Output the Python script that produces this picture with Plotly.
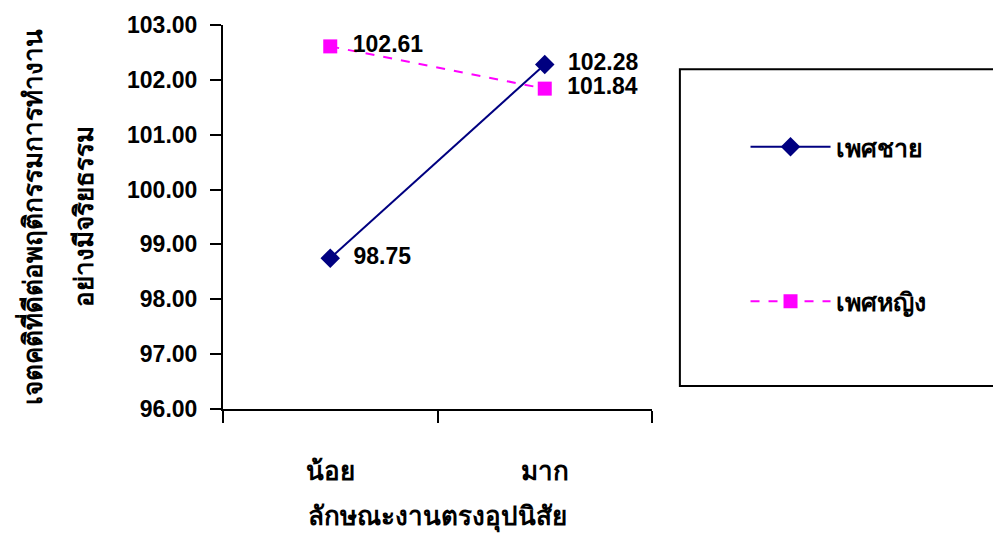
import plotly.graph_objects as go

# Categories on the x axis and the mean scores per group
categories = ["น้อย", "มาก"]
male_scores = [98.75, 102.28]
female_scores = [102.61, 101.84]
series_names = ["เพศชาย", "เพศหญิง"]
y_ticks = [96, 97, 98, 99, 100, 101, 102, 103]

FONT = "Liberation Sans, Arial, sans-serif"
NUM = dict(family=FONT, size=23, color="black")
THAI = dict(family=FONT, size=26, color="black")
PAD = "\u00a0\u00a0"

fig = go.Figure()
fig.add_trace(go.Scatter(
    x=categories, y=male_scores, name=f"<b>{series_names[0]}</b>", legendgroup="m",
    mode="lines+markers+text",
    line=dict(color="#000080", width=2),
    marker=dict(symbol="diamond", size=15, color="#000080"),
    text=[f"<b>{PAD}{v:.2f}</b>" for v in male_scores],
    textposition="middle right", textfont=NUM,
    cliponaxis=False,
))
fig.add_trace(go.Scatter(
    x=categories, y=female_scores, name=f"<b>{series_names[1]}</b>", legendgroup="f",
    mode="lines+markers+text",
    line=dict(color="#FF00FF", width=2, dash="dash"),
    marker=dict(symbol="square", size=14, color="#FF00FF"),
    text=[f"<b>{PAD}{v:.2f}</b>" for v in female_scores],
    textposition="middle right", textfont=NUM,
    cliponaxis=False,
))

fig.update_layout(
    width=993, height=533,
    margin=dict(l=223, r=341, t=25, b=124, autoexpand=False),
    plot_bgcolor="white", paper_bgcolor="white",
    font=dict(family=FONT, color="black"),
    showlegend=True,
    legend=dict(
        x=1.218, y=0.742, xanchor="left", yanchor="top",
        font=dict(family=FONT, size=25, color="black"),
        itemwidth=80,
        tracegroupgap=119, bgcolor="rgba(0,0,0,0)",
    ),
    shapes=[dict(
        type="rect", xref="paper", yref="paper",
        x0=1.065, x1=1.82, y0=0.06, y1=0.885,
        line=dict(color="black", width=2),
    )],
    annotations=[
        dict(text="<b>เจตคติที่ดีต่อพฤติกรรมการทำงาน</b>", textangle=-90,
             xref="paper", yref="paper", x=0, y=0.5,
             xanchor="center", yanchor="middle", xshift=-192, showarrow=False,
             font=THAI),
        dict(text="<b>อย่างมีจริยธรรม</b>", textangle=-90,
             xref="paper", yref="paper", x=0, y=0.5,
             xanchor="center", yanchor="middle", xshift=-139, showarrow=False,
             font=THAI),
    ],
)

fig.update_xaxes(
    type="category", range=[-0.5, 1.5], automargin=False,
    showline=True, linecolor="black", linewidth=2,
    ticks="outside", tickson="boundaries", ticklen=12, tickwidth=2, tickcolor="black",
    showgrid=False, zeroline=False,
    tickfont=THAI,
    ticklabelstandoff=38,
    tickvals=categories, ticktext=[f"<b>{c}</b>" for c in categories],
    title=dict(text="<b>ลักษณะงานตรงอุปนิสัย</b>", standoff=28, font=THAI),
)
fig.update_yaxes(
    range=[96, 103], tickvals=y_ticks, automargin=False,
    ticktext=[f"<b>{v:.2f}</b>" for v in y_ticks],
    showline=True, linecolor="black", linewidth=2,
    ticks="outside", ticklen=11, tickwidth=2, tickcolor="black",
    showgrid=False, zeroline=False,
    tickfont=NUM,
    ticklabelstandoff=8,
)

fig.write_html("out.html")
